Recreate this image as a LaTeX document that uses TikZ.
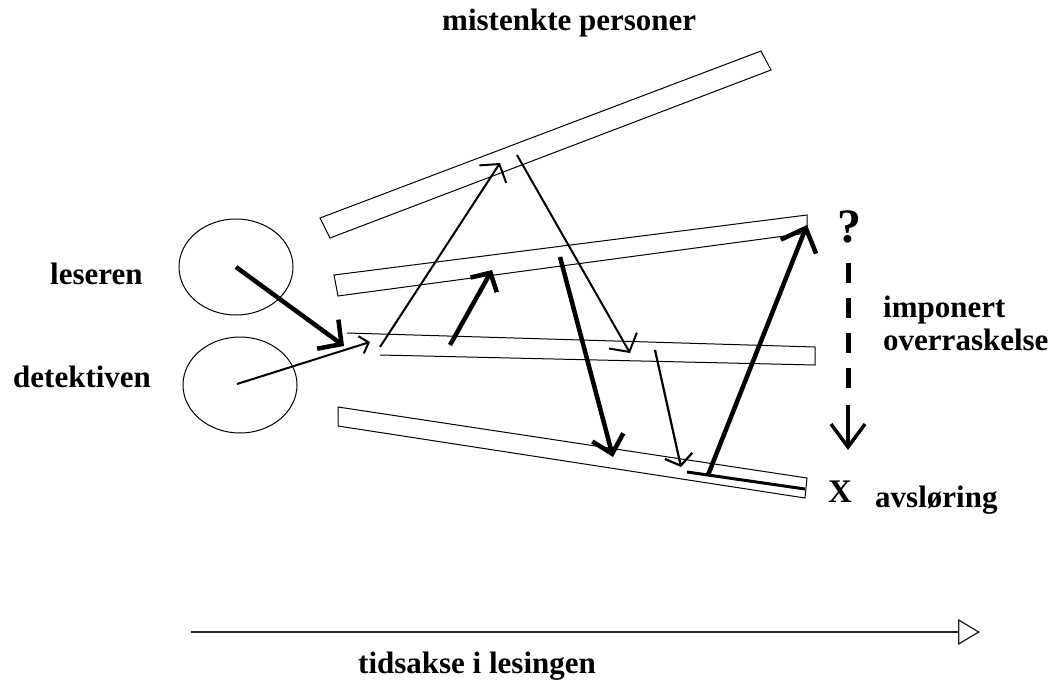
\documentclass[tikz,border=0pt]{standalone}
\usepackage{fontspec}
\setmainfont{Liberation Serif}
\usetikzlibrary{arrows.meta,shapes.geometric}
\begin{document}
\begin{tikzpicture}[x=1pt,y=-1pt,
  lbl/.style={font=\fontsize{31}{36}\selectfont\bfseries, inner sep=0pt, anchor=base west},
  bar/.style={draw, line width=1pt, line join=miter},
  circ/.style={ellipse, draw, line width=1pt, minimum width=114pt, minimum height=96pt, inner sep=0pt},
  thinarr/.style={line width=2pt},
  thickarr/.style={line width=4.5pt}
]
\useasboundingbox (0,0) rectangle (1057,680);

% labels
\node[lbl] (mp) at (442,30) {mistenkte personer};
\node[lbl] (les) at (50,284) {leseren};
\node[lbl] (det) at (13,387) {detektiven};
\node[lbl] (imp) at (883,317) {imponert};
\node[lbl] (ovr) at (883,350) {overraskelse};
\node[lbl, font=\fontsize{48}{50}\selectfont\bfseries, anchor=base] (q) at (849,242) {?};
\node[lbl, font=\fontsize{33}{36}\selectfont\bfseries] (X) at (828,502) {X};
\node[lbl] (avs) at (875,507) {avsløring};
\node[lbl] (tid) at (358,673) {tidsakse i lesingen};

% circles
\node[circ] (cL) at (236,267) {};
\node[circ] (cD) at (240,385) {};

% bars
\draw[bar] (320,218) -- (761,51) -- (771,70) -- (330,238) -- cycle;
\draw[bar] (334,275) -- (807,215) -- (807,233) -- (338,296) -- cycle;
\draw[bar] (347,333) -- (815,347) -- (815,365) -- (380,355);
\draw[bar] (338,407) -- (807,478) -- (805,498) -- (338,426) -- cycle;

% arrow end points
\coordinate (a1e) at (344,346);
\coordinate (a2s) at (237,384);
\coordinate (a2e) at (370,342);
\coordinate (a3s) at (380,347);
\coordinate (a3e) at (500,163);
\coordinate (a4s) at (517,155);
\coordinate (a4e) at (630,353);
\coordinate (a5s) at (450,345);
\coordinate (a5e) at (492,270);
\coordinate (a6s) at (560,257);
\coordinate (a6e) at (613,457);
\coordinate (a7s) at (655,350);
\coordinate (a7e) at (681,467);
\coordinate (a8s) at (708,475);
\coordinate (a8e) at (807,225);
\coordinate (hs) at (687,472);
\coordinate (he) at (805,489);
\coordinate (d1) at (848,263);
\coordinate (d2) at (848,388);
\coordinate (d3) at (848,405);
\coordinate (d4) at (848,450);
\coordinate (t0) at (191,632);
\coordinate (t1) at (980,632);

% arrows
\draw[line width=4.5pt, -{Straight Barb[length=17pt, width=36pt]}] (cL.center) -- (a1e);
\draw[line width=2pt, -{Straight Barb[length=8pt, width=18pt]}] (a2s) -- (a2e);
\draw[thinarr, -{Straight Barb[length=12pt, width=32pt]}] (a3s) -- (a3e);
\draw[thinarr, -{Straight Barb[length=13pt, width=32pt]}] (a4s) -- (a4e);
\draw[thickarr, -{Straight Barb[length=14pt, width=30pt]}] (a5s) -- (a5e);
\draw[thickarr, -{Straight Barb[length=17pt, width=32pt]}] (a6s) -- (a6e);
\draw[line width=2.2pt, -{Straight Barb[length=10pt, width=28pt]}] (a7s) -- (a7e);
\draw[thickarr, -{Straight Barb[length=20pt, width=38pt]}] (a8s) -- (a8e);
\draw[line width=3pt] (hs) -- (he);

% dashed arrow
\draw[line width=5pt, dash pattern=on 20pt off 15pt] (d1) -- (d2);
\draw[line width=3.5pt, -{Straight Barb[length=23pt, width=34pt]}] (d3) -- (d4);

% time axis
\draw[line width=2.5pt, black!85, -{Triangle[open, length=22pt, width=26pt, line width=1.3pt]}] (t0) -- (t1);
\end{tikzpicture}
\end{document}
